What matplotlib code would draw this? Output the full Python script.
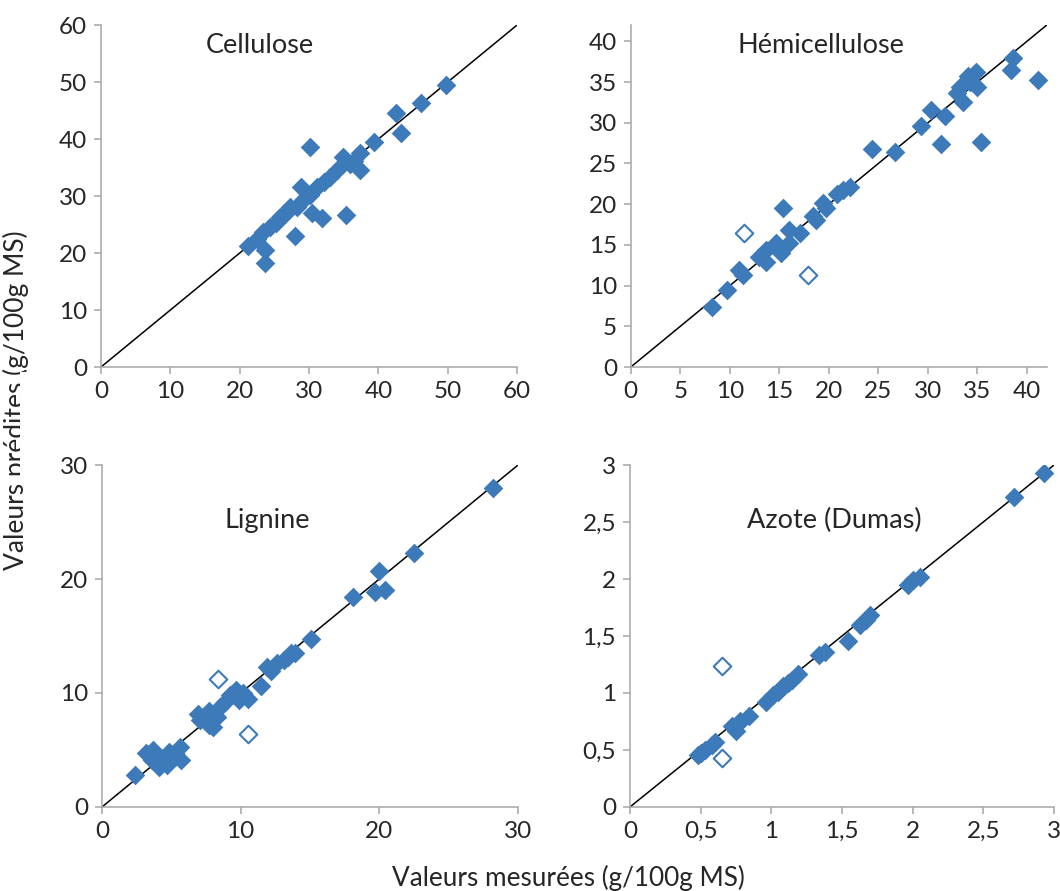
import numpy as np
import matplotlib.pyplot as plt
from matplotlib.ticker import FuncFormatter
from matplotlib.patches import Rectangle

# ─── Data ─────────────────────────────────────────────────────────────────────
cell_x = [21.2, 22.5, 23.4, 23.7, 23.7, 24.4, 25.2, 25.8, 26.5, 27.3, 28.0, 28.2,
          28.8, 29.2, 30.1, 30.1, 30.4, 31.1, 31.8, 32.1, 33.0, 34.0, 34.9, 35.4,
          35.9, 36.5, 37.4, 37.4, 39.4, 42.5, 43.2, 46.1, 49.7]
cell_y = [21.2, 22.4, 23.7, 20.5, 18.2, 24.6, 25.3, 26.4, 26.8, 28.1, 23.0, 28.1,
          31.6, 29.3, 30.2, 38.6, 27.0, 31.6, 26.1, 32.5, 33.4, 34.6, 36.8, 26.6,
          35.7, 36.2, 37.5, 34.6, 39.4, 44.5, 41.1, 46.3, 49.4]

hemi_x = [8.2, 9.7, 10.9, 11.3, 12.9, 13.7, 13.7, 14.7, 15.2, 15.4, 16.0, 16.0,
          17.1, 18.4, 18.7, 19.4, 19.7, 20.8, 21.4, 22.1, 24.4, 26.7, 29.3, 30.3,
          31.3, 31.7, 32.9, 33.2, 33.5, 34.0, 34.2, 34.9, 35.0, 35.4, 38.4, 38.6,
          41.1]
hemi_y = [7.4, 9.5, 11.9, 11.3, 13.5, 12.9, 14.4, 15.2, 14.0, 19.5, 16.8, 15.2,
          16.4, 18.6, 18.0, 20.1, 19.5, 21.3, 21.7, 22.1, 26.8, 26.4, 29.6, 31.6,
          27.4, 30.8, 33.6, 34.4, 32.6, 35.8, 35.0, 36.2, 34.4, 27.6, 36.5, 37.9,
          35.2]
hemi_out_x = [11.4, 17.9]
hemi_out_y = [16.5, 11.3]

lign_x = [2.4, 3.2, 3.6, 3.7, 4.1, 4.2, 4.7, 4.8, 5.3, 5.6, 5.7, 6.9, 7.1, 7.7,
          7.7, 8.0, 8.3, 8.5, 8.9, 9.2, 9.7, 9.9, 10.2, 10.5, 11.5, 11.9, 12.2,
          12.6, 13.1, 13.4, 13.6, 13.9, 15.1, 18.1, 19.7, 20.0, 20.4, 22.5, 28.2]
lign_y = [2.8, 4.7, 4.1, 5.0, 3.5, 4.1, 3.7, 4.8, 4.7, 5.3, 4.1, 8.2, 7.6, 7.2,
          8.4, 7.0, 7.9, 8.8, 9.2, 9.8, 10.3, 9.4, 10.0, 9.5, 10.6, 12.3, 11.9,
          12.6, 12.9, 13.2, 13.5, 13.5, 14.7, 18.4, 18.9, 20.7, 19.0, 22.3, 28.0]
lign_out_x = [8.4, 10.5]
lign_out_y = [11.2, 6.4]

azote_x = [0.48, 0.50, 0.53, 0.58, 0.60, 0.72, 0.75, 0.77, 0.78, 0.84, 0.96,
           1.01, 1.05, 1.08, 1.12, 1.15, 1.19, 1.34, 1.38, 1.54, 1.63, 1.67,
           1.70, 1.97, 2.00, 2.05, 2.72, 2.93]
azote_y = [0.46, 0.47, 0.50, 0.54, 0.57, 0.71, 0.67, 0.74, 0.75, 0.80, 0.92,
           0.98, 1.01, 1.06, 1.09, 1.11, 1.17, 1.33, 1.36, 1.46, 1.60, 1.64,
           1.68, 1.95, 1.99, 2.02, 2.72, 2.93]
azote_out_x = [0.65, 0.65]
azote_out_y = [1.24, 0.43]

# ─── Style ────────────────────────────────────────────────────────────────────
BLUE = "#3d7aba"
GREY = "#a6a6a6"
TXT = "#262626"
plt.rcParams["font.family"] = ["Lato", "DejaVu Sans"]

fig = plt.figure(figsize=(10.6, 8.91), dpi=100)

panels = [
    # (rect, lim, step, title, title pos, filled, hollow)
    ([0.0953, 0.5881, 0.3925, 0.3838], 60, 10, "Cellulose", (0.382, 0.94),
     (cell_x, cell_y), None),
    ([0.5951, 0.5881, 0.3924, 0.3838], 42, 5, "Hémicellulose", (0.457, 0.94),
     (hemi_x, hemi_y), (hemi_out_x, hemi_out_y)),
    ([0.0962, 0.0943, 0.3925, 0.3838], 30, 10, "Lignine", (0.397, 0.839),
     (lign_x, lign_y), (lign_out_x, lign_out_y)),
    ([0.5943, 0.0943, 0.4000, 0.3838], 3, 0.5, "Azote (Dumas)", (0.483, 0.839),
     (azote_x, azote_y), (azote_out_x, azote_out_y)),
]

comma = FuncFormatter(lambda v, p: f"{v:g}".replace(".", ","))

for rect, lim, step, title, tpos, filled, hollow in panels:
    ax = fig.add_axes(rect)
    ax.plot([0, lim], [0, lim], color="black", lw=1.1, zorder=2)
    ax.scatter(filled[0], filled[1], marker="D", s=100, color=BLUE,
               linewidths=0, zorder=3)
    if hollow is not None:
        ax.scatter(hollow[0], hollow[1], marker="D", s=80, facecolor="white",
                   edgecolor=BLUE, linewidths=1.5, zorder=3)
    ax.set_xlim(0, lim)
    ax.set_ylim(0, lim)
    ticks = np.arange(0, lim + 1e-9, step)
    ticks = ticks[ticks <= (lim if lim != 42 else 40)]
    ax.set_xticks(ticks)
    ax.set_yticks(ticks)
    if step < 1:
        ax.xaxis.set_major_formatter(comma)
        ax.yaxis.set_major_formatter(comma)
    for s in ["top", "right"]:
        ax.spines[s].set_visible(False)
    for s in ["left", "bottom"]:
        ax.spines[s].set_color(GREY)
        ax.spines[s].set_linewidth(1.1)
    ax.tick_params(direction="out", length=5, width=1.1, color=GREY,
                   labelsize=17.5, labelcolor=TXT, pad=5)
    ax.text(tpos[0], tpos[1], title, transform=ax.transAxes, ha="center",
            va="center", fontsize=19.5, color=TXT)

fig.text(0.0150, 0.551, "Valeurs prédites (g/100g MS)", rotation=90,
         ha="center", va="center", fontsize=19, color=TXT)
fig.text(0.536, 0.0146, "Valeurs mesurées (g/100g MS)", ha="center",
         va="center", fontsize=18.8, color=TXT)

# lower-left chart area hides part of the y label
fig.patches.append(Rectangle((20 / 1060, 1 - 482 / 891), 22 / 1060, 110 / 891,
                             transform=fig.transFigure, facecolor="white",
                             edgecolor="none", zorder=5))

plt.savefig("out.png", dpi=100)
